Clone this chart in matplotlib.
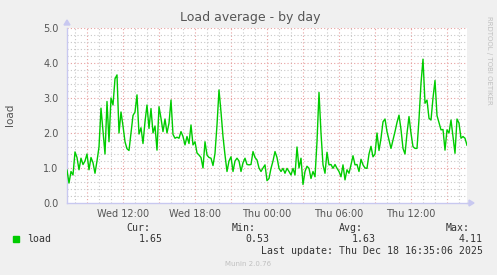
import numpy as np
import matplotlib.pyplot as plt
from matplotlib.ticker import MultipleLocator

# load values, one every 10 minutes starting Wed 07:20
load = [
    0.94, 0.57, 0.90, 0.80, 1.46, 1.30, 0.95, 1.28, 1.10, 1.20,
    1.40, 0.95, 1.30, 1.15, 0.85, 1.20, 1.60, 2.71, 2.05, 1.40,
    2.90, 1.75, 3.00, 2.80, 3.55, 3.66, 2.00, 2.60, 2.20, 1.75,
    1.55, 1.50, 2.00, 2.50, 2.60, 3.09, 1.97, 2.15, 1.70, 2.32,
    2.80, 2.13, 2.70, 2.00, 2.20, 1.51, 2.75, 2.42, 2.04, 2.40,
    2.00, 2.28, 2.94, 1.96, 1.85, 1.88, 1.85, 2.04, 1.90, 1.66,
    1.90, 1.70, 2.23, 1.66, 1.75, 1.43, 1.37, 1.30, 1.00, 1.75,
    1.37, 1.30, 1.28, 1.07, 1.42, 2.23, 3.23, 2.60, 1.90, 1.37,
    0.90, 1.20, 1.32, 0.90, 1.20, 1.28, 1.20, 0.90, 1.15, 1.28,
    1.10, 1.09, 1.10, 1.47, 1.30, 1.23, 1.00, 0.90, 1.00, 1.09,
    0.64, 0.70, 0.99, 1.20, 1.47, 1.30, 0.99, 0.90, 0.99, 0.85,
    0.99, 0.90, 0.80, 0.99, 0.80, 1.60, 1.00, 1.28, 0.53, 0.90,
    1.05, 0.99, 0.70, 0.90, 0.75, 1.75, 3.16, 2.00, 1.09, 0.85,
    1.45, 1.09, 1.10, 0.99, 1.10, 0.99, 0.90, 0.75, 1.09, 0.66,
    0.95, 0.85, 1.09, 1.35, 1.09, 1.10, 0.90, 1.25, 1.09, 1.00,
    0.99, 1.40, 1.62, 1.32, 1.40, 2.00, 1.50, 1.85, 2.32, 2.40,
    2.04, 1.80, 1.56, 1.80, 2.04, 2.30, 2.51, 2.10, 1.56, 1.40,
    1.99, 2.47, 1.99, 1.61, 1.56, 1.56, 2.40, 3.42, 4.11, 2.85,
    2.94, 2.42, 2.37, 3.00, 3.50, 2.50, 2.30, 2.09, 2.10, 1.51,
    2.09, 2.00, 2.37, 1.90, 1.42, 2.40, 2.28, 1.85, 1.90, 1.85,
    1.65,
]
start_hour = 7 + 20 / 60  # hours since Wed 00:00
end_hour = 40 + 40 / 60
tick_hours = [12, 18, 24, 30, 36]
tick_labels = ["Wed 12:00", "Wed 18:00", "Thu 00:00", "Thu 06:00", "Thu 12:00"]
stats_names = ["Cur:", "Min:", "Avg:", "Max:"]
stats_values = ["1.65", "0.53", "1.63", "4.11"]

W, H = 497, 275
fig = plt.figure(figsize=(W / 100, H / 100), dpi=100, facecolor="#f0f0f0")
ax = fig.add_axes([67 / W, 72 / H, 400 / W, 175 / H])
ax.set_facecolor("white")

hours = start_hour + np.arange(len(load)) / 6

# grid: grey every hour / 0.2, red every 3 hours / 1.0
for h in range(8, 41):
    col = "#e8a0a0" if h % 3 == 0 else "#c8c8c8"
    ax.axvline(h, color=col, lw=0.8, ls=(0, (1, 2)), zorder=1)
for i in range(1, 26):
    v = i * 0.2
    col = "#e8a0a0" if i % 5 == 0 else "#c8c8c8"
    ax.axhline(v, color=col, lw=0.8, ls=(0, (1, 2)), zorder=1)

ax.plot(hours, load, color="#00cc00", lw=1.0, zorder=3)

ax.set_xlim(start_hour, end_hour)
ax.set_ylim(0, 5)
ax.set_xticks(tick_hours)
ax.set_xticklabels(tick_labels)
ax.yaxis.set_major_locator(MultipleLocator(1))
ax.yaxis.set_major_formatter(plt.FuncFormatter(lambda v, p: "%.1f" % v))
ax.tick_params(length=0, labelsize=7, colors="#555555", pad=6)
ax.tick_params(axis="x", pad=4)

for s in ["top", "right"]:
    ax.spines[s].set_visible(False)
for s in ["left", "bottom"]:
    ax.spines[s].set_color("#c8c8f0")
    ax.spines[s].set_linewidth(1)

# axis arrows
fig.patches.append(plt.Polygon([[64 / W, (H - 25) / H], [70 / W, (H - 25) / H], [67 / W, (H - 20) / H]],
                               transform=fig.transFigure, color="#c8c8f0"))
fig.lines.append(plt.Line2D([467 / W, 470 / W], [72 / H, 72 / H], transform=fig.transFigure,
                            color="#c8c8f0", lw=1))
fig.patches.append(plt.Polygon([[469 / W, 75 / H], [469 / W, 69 / H], [474 / W, 72 / H]],
                               transform=fig.transFigure, color="#c8c8f0"))

fig.text(250 / W, 1 - 18 / H, "Load average - by day", ha="center", va="center",
         fontsize=9, color="#555555")
fig.text(10 / W, 1 - 115 / H, "load", rotation=90, ha="center", va="center",
         fontsize=7.5, color="#555555")
fig.text(489 / W, 1 - 60 / H, "RRDTOOL / TOBI OETIKER", rotation=270, ha="center",
         va="center", fontsize=5, color="#c0c0c0")

# legend and stats
mono = "DejaVu Sans Mono"
fig.patches.append(plt.Rectangle((13 / W, (H - 242) / H), 6 / W, 6 / H,
                                 transform=fig.transFigure, color="#00cc00"))
fig.text(27 / W, 1 - 239 / H, "load", family=mono, fontsize=7.1, color="#333333",
         va="center")
name_x = [150, 256, 363, 470]
val_x = [163, 269, 376, 483]
for n, v, nx, vx in zip(stats_names, stats_values, name_x, val_x):
    fig.text(nx / W, 1 - 228 / H, n, family=mono, fontsize=7.1, color="#333333",
             ha="right", va="center")
    fig.text(vx / W, 1 - 239 / H, v, family=mono, fontsize=7.1, color="#333333",
             ha="right", va="center")
fig.text(483 / W, 1 - 251 / H, "Last update: Thu Dec 18 16:35:06 2025", family=mono,
         fontsize=7.1, color="#333333", ha="right", va="center")
fig.text(248 / W, 1 - 264 / H, "Munin 2.0.76", fontsize=5, color="#c0c0c0",
         ha="center", va="center")

fig.savefig("out.png", dpi=100, facecolor=fig.get_facecolor())
